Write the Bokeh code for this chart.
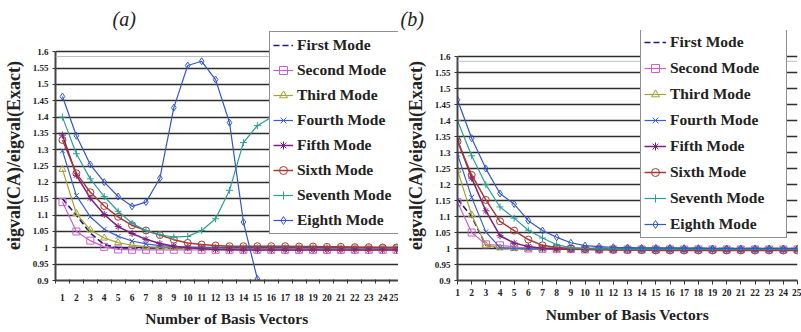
import numpy as np
from bokeh.plotting import figure
from bokeh.models import FixedTicker, Legend, LegendItem, Span
from bokeh.layouts import row
from bokeh.embed import file_html
from bokeh.resources import INLINE

nan = np.nan

basis = list(range(1, 26))
x_tick_labels = [str(n) for n in basis]
y_ticks = [0.9, 0.95, 1.0, 1.05, 1.1, 1.15, 1.2, 1.25, 1.3, 1.35, 1.4, 1.45, 1.5, 1.55, 1.6]
y_tick_labels = ["0.9", "0.95", "1", "1.05", "1.1", "1.15", "1.2", "1.25", "1.3", "1.35",
                 "1.4", "1.45", "1.5", "1.55", "1.6"]
mode_names = ["First Mode", "Second Mode", "Third Mode", "Fourth Mode",
              "Fifth Mode", "Sixth Mode", "Seventh Mode", "Eighth Mode"]

# ---- panel (a) ----
first_a = [1.15, 1.10, 1.045, 1.01, 1.0, 1.0, 1.0, 1.0, 1.0, 1.0, 1.0, 1.0, 1.0,
           1.0, 1.0, 1.0, 1.0, 1.0, 1.0, 1.0, 1.0, 1.0, 1.0, 1.0, 1.0]
second_a = [1.14, 1.05, 1.022, 1.003, 0.995, 0.994, 0.994, 0.994, 0.994, 0.994, 0.994, 0.994,
            0.994, 0.994, 0.994, 0.994, 0.994, 0.994, 0.994, 0.994, 0.994, 0.994, 0.994, 0.994, 0.994]
third_a = [1.24, 1.105, 1.055, 1.03, 1.016, 1.008, 1.003, 1.001, 1.0, 1.0, 0.999, 0.999, 0.998,
           0.998, 0.998, 0.998, 0.998, 0.998, 0.998, 0.998, 0.998, 0.998, 0.998, 0.998, 0.998]
fourth_a = [1.297, 1.16, 1.095, 1.057, 1.035, 1.021, 1.012, 1.007, 1.004, 1.002, 1.001, 1.0, 1.0,
            1.0, 1.0, 1.0, 1.0, 1.0, 1.0, 1.0, 1.0, 1.0, 1.0, 1.0, 1.0]
fifth_a = [1.345, 1.222, 1.152, 1.102, 1.065, 1.044, 1.026, 1.013, 1.005, 1.0, 0.997, 0.995,
           0.994, 0.993, 0.993, 0.993, 0.993, 0.993, 0.993, 0.993, 0.993, 0.993, 0.993, 0.993, 0.993]
sixth_a = [1.33, 1.228, 1.17, 1.128, 1.095, 1.069, 1.053, 1.039, 1.025, 1.015, 1.01, 1.007, 1.005,
           1.005, 1.005, 1.005, 1.005, 1.004, 1.004, 1.003, 1.003, 1.002, 1.002, 1.001, 1.001]
seventh_a = [1.40, 1.288, 1.211, 1.157, 1.112, 1.075, 1.053, 1.04, 1.033, 1.035, 1.053, 1.089,
             1.176, 1.322, 1.374, 1.40, nan, nan, nan, nan, nan, nan, nan, nan, nan]
eighth_a = [1.463, 1.343, 1.255, 1.201, 1.157, 1.127, 1.14, 1.213, 1.429, 1.558, 1.571, 1.515,
            1.383, 1.079, 0.905, 0.875, nan, nan, nan, nan, nan, nan, nan, nan, nan]

# ---- panel (b) ----
first_b = [1.155, 1.10, 1.01, 1.0, 1.0, 1.0, 1.0, 1.0, 1.0, 1.0, 1.0, 1.0, 1.0,
           1.0, 1.0, 1.0, 1.0, 1.0, 1.0, 1.0, 1.0, 1.0, 1.0, 1.0, 1.0]
second_b = [1.145, 1.05, 1.013, 1.01, 1.005, 1.0, 0.999, 0.998, 0.998, 0.997, 0.997, 0.997, 0.997,
            0.997, 0.997, 0.997, 0.997, 0.997, 0.997, 0.997, 0.997, 0.997, 0.997, 0.997, 0.997]
third_b = [1.245, 1.105, 1.01, 1.002, 1.0, 0.999, 0.999, 0.998, 0.998, 0.998, 0.998, 0.998, 0.998,
           0.998, 0.998, 0.998, 0.998, 0.998, 0.998, 0.998, 0.998, 0.998, 0.998, 0.998, 0.998]
fourth_b = [1.295, 1.16, 1.052, 1.003, 1.0, 0.999, 0.999, 0.998, 0.998, 0.998, 0.998, 0.998, 0.998,
            0.998, 0.998, 0.998, 0.998, 0.998, 0.998, 0.998, 0.998, 0.998, 0.998, 0.998, 0.998]
fifth_b = [1.34, 1.22, 1.118, 1.04, 1.017, 1.006, 1.001, 0.999, 0.998, 0.997, 0.996, 0.996, 0.996,
           0.995, 0.995, 0.995, 0.995, 0.995, 0.995, 0.995, 0.995, 0.995, 0.995, 0.995, 0.995]
sixth_b = [1.335, 1.23, 1.152, 1.085, 1.056, 1.028, 1.01, 1.003, 1.0, 0.998, 0.997, 0.996, 0.995,
           0.995, 0.994, 0.994, 0.994, 0.994, 0.994, 0.994, 0.994, 0.994, 0.994, 0.994, 0.994]
seventh_b = [1.40, 1.29, 1.20, 1.13, 1.095, 1.057, 1.033, 1.012, 1.002, 1.0, 0.999, 0.999, 0.998,
             0.998, 0.998, 0.998, 0.998, 0.998, 0.998, 0.998, 0.998, 0.998, 0.998, 0.998, 0.998]
eighth_b = [1.465, 1.345, 1.25, 1.172, 1.139, 1.087, 1.056, 1.035, 1.018, 1.009, 1.006, 1.004, 1.003,
            1.002, 1.002, 1.002, 1.001, 1.001, 1.0, 1.0, 1.0, 1.0, 1.0, 1.0, 1.0]

colors = ["#1a1a80", "#cc5fcc", "#a3a336", "#3a5fcc", "#7d1f7d", "#a83a34", "#2a9f96", "#3358c4"]
markers = [None, "square", "triangle", "x", "asterisk", "circle", "cross", "diamond"]
widths = [1.6, 1.2, 1.2, 1.2, 1.5, 1.5, 1.2, 1.2]

SERIF = "Liberation Serif"


def make_panel(series, title, title_offset, x_range, y_top, width, borders, legend_loc,
               glyph_w, label_w, spacing, between_categories):
    bl, br, bt, bb = borders
    p = figure(width=width, height=332, x_range=x_range, y_range=(0.9, y_top),
               output_backend="svg", toolbar_location=None,
               min_border_left=bl, min_border_right=br, min_border_top=bt, min_border_bottom=bb)
    p.outline_line_color = None
    p.background_fill_color = "white"
    p.border_fill_color = "white"

    p.title.text = title
    p.title.text_font = SERIF
    p.title.text_font_style = "italic"
    p.title.text_font_size = "20px"
    p.title.text_color = "#222222"
    p.title.align = "left"
    p.title.offset = title_offset
    p.title.standoff = 0
    p.title.vertical_align = "middle"

    items = []
    for name, ys, c, m, w in zip(mode_names, series, colors, markers, widths):
        rs = []
        if m is None:
            rs.append(p.line(basis, ys, line_color=c, line_width=w, line_dash="6 3"))
        else:
            rs.append(p.line(basis, ys, line_color=c, line_width=w))
            rs.append(p.scatter(basis, ys, marker=m, size=7, line_color=c, line_width=1,
                                fill_color=None))
        items.append(LegendItem(label=name, renderers=rs))

    # axes
    p.yaxis.ticker = FixedTicker(ticks=y_ticks)
    p.yaxis.bounds = (y_ticks[0], y_ticks[-1])
    p.yaxis.major_label_overrides = {t: s for t, s in zip(y_ticks, y_tick_labels)}
    if between_categories:
        p.xaxis.ticker = FixedTicker(ticks=basis, minor_ticks=[n + 0.5 for n in [0] + basis])
        p.xaxis.major_tick_out = 0
        p.xaxis.major_tick_in = 0
        p.xaxis.minor_tick_out = 3
        p.xaxis.minor_tick_in = 1
        p.xaxis.minor_tick_line_color = "#333333"
        p.xaxis.major_label_standoff = 10
        p.xaxis.axis_label_standoff = 6
    else:
        p.xaxis.ticker = FixedTicker(ticks=basis)
        p.xaxis.major_tick_out = 4
        p.xaxis.major_tick_in = 0
        p.xaxis.minor_tick_line_color = None
        p.xaxis.major_label_standoff = 4
        p.xaxis.axis_label_standoff = 7
    p.xaxis.major_label_overrides = {n: s for n, s in zip(basis, x_tick_labels)}
    p.yaxis.major_tick_out = 3
    p.yaxis.major_tick_in = 0
    p.yaxis.minor_tick_line_color = None
    p.yaxis.major_label_standoff = 4
    p.yaxis.axis_label_standoff = 6

    p.xaxis.axis_label = "Number of Basis Vectors"
    p.yaxis.axis_label = "eigval(CA)/eigval(Exact)"
    for ax in (p.xaxis[0], p.yaxis[0]):
        ax.axis_label_text_font = SERIF
        ax.axis_label_text_font_style = "bold"
        ax.axis_label_text_color = "#222222"
        ax.major_label_text_font = SERIF
        ax.major_label_text_font_style = "bold"
        ax.major_label_text_color = "#222222"
        ax.axis_line_color = "#444444"
        ax.axis_line_width = 2
        ax.major_tick_line_color = "#333333"
    p.xaxis.axis_label_text_font_size = "15.5px"
    p.yaxis.axis_label_text_font_size = "18px"
    p.xaxis.major_label_text_font_size = "9.5px"
    p.yaxis.major_label_text_font_size = "9px"

    p.xgrid.visible = False
    p.ygrid.ticker = FixedTicker(ticks=y_ticks)
    p.ygrid.grid_line_color = "#2e2e2e"
    p.ygrid.grid_line_width = 1.3

    p.add_layout(Span(location=1.5855, dimension="width", line_color="#b8bdca", line_width=1))

    leg = Legend(items=items, location=legend_loc)
    leg.border_line_color = "#222222"
    leg.border_line_width = 1
    leg.background_fill_color = "white"
    leg.background_fill_alpha = 1
    leg.label_text_font = SERIF
    leg.label_text_font_style = "bold"
    leg.label_text_font_size = "15.5px"
    leg.label_text_color = "#222222"
    leg.glyph_width = glyph_w
    leg.glyph_height = 20
    leg.label_height = 20
    leg.label_width = label_w
    leg.spacing = spacing
    leg.padding = 3
    leg.margin = 0
    leg.label_standoff = 4
    p.add_layout(leg)
    return p


pa = make_panel([first_a, second_a, third_a, fourth_a, fifth_a, sixth_a, seventh_a, eighth_a],
                "(a)", 57, (0.5, 25.14), 1.6652, 398, (53, 0, 30, 52), (214, 46), 20, 100, 5,
                True)
pb = make_panel([first_b, second_b, third_b, fourth_b, fifth_b, sixth_b, seventh_b, eighth_b],
                "(b)", -57, (1, 25), 1.6818, 403, (59, 4, 30, 49), (183, 42), 22, 113, 6,
                False)

layout = row(pa, pb, spacing=0)
open("out.html", "w").write(file_html(layout, INLINE))
